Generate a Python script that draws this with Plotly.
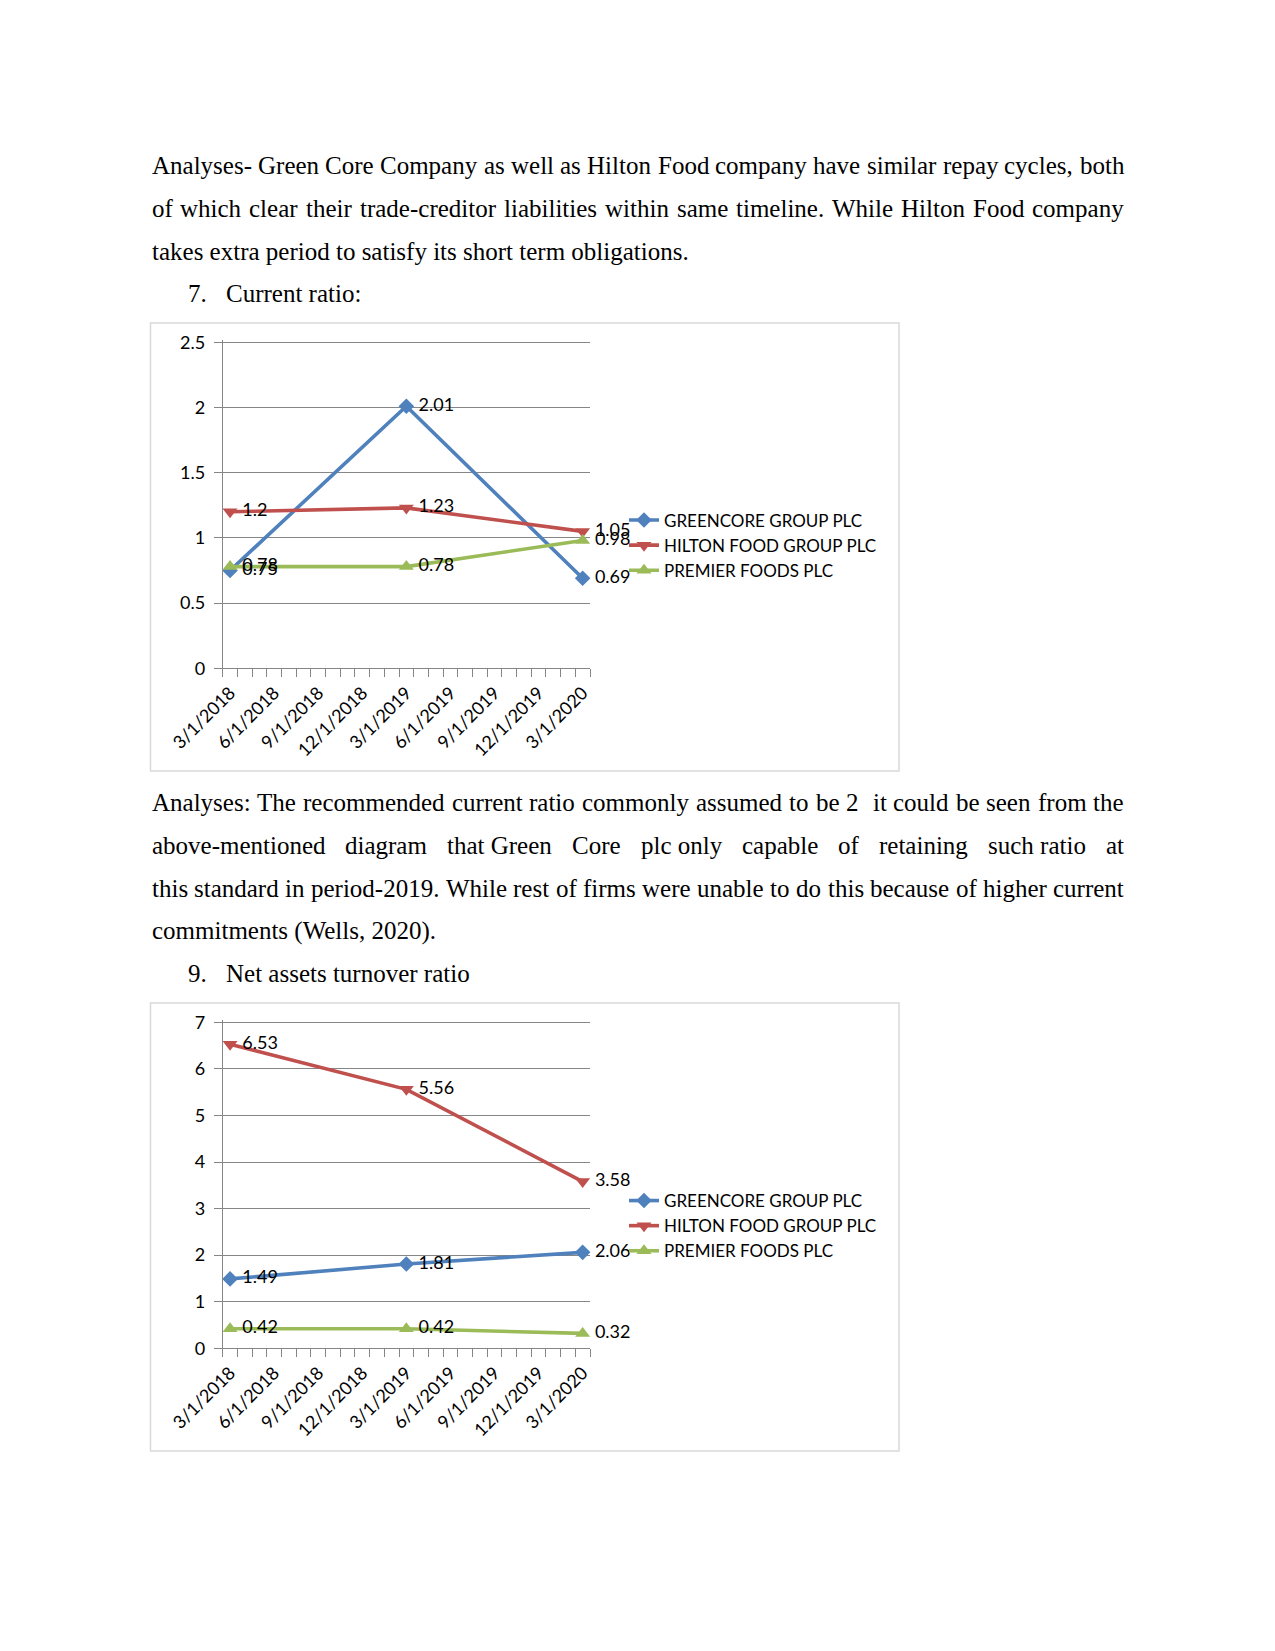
import plotly.graph_objects as go

W, H = 1275, 1651

# ---------------- data ----------------
dates = ["3/1/2018", "3/1/2019", "3/1/2020"]
xtick_labels = ["3/1/2018", "6/1/2018", "9/1/2018", "12/1/2018", "3/1/2019",
                "6/1/2019", "9/1/2019", "12/1/2019", "3/1/2020"]
series_names = ["GREENCORE GROUP PLC", "HILTON FOOD GROUP PLC", "PREMIER FOODS PLC"]

current_greencore = [0.75, 2.01, 0.69]
current_hilton = [1.2, 1.23, 1.05]
current_premier = [0.78, 0.78, 0.98]

nat_greencore = [1.49, 1.81, 2.06]
nat_hilton = [6.53, 5.56, 3.58]
nat_premier = [0.42, 0.42, 0.32]

# ---------------- styles ----------------
colors = ["#4F81BD", "#C0504D", "#9BBB59"]
symbols = ["diamond", "triangle-down", "triangle-up"]
msizes = [12, 13, 13]
GRID = "#868686"
CHART_FONT = "Lato"
BODY_FONT = "Liberation Serif"


def month_index(s):
    m, d, y = map(int, s.split("/"))
    return (y - 2018) * 12 + (m - 3)


xs = [month_index(d) for d in dates]
tickvals = [month_index(t) for t in xtick_labels]
n_months = tickvals[-1] + 1
minor_vals = [i - 0.5 for i in range(n_months + 1)]

fig = go.Figure()


def px_x(p):
    return p / W


def px_y(p):
    return 1 - p / H


def add_chart(series, xa, ya, leg):
    for name, vals, c, sym, ms in zip(series_names, series, colors, symbols, msizes):
        fig.add_trace(go.Scatter(
            x=xs, y=vals, name=name, mode="lines+markers",
            line=dict(color=c, width=3.6),
            marker=dict(symbol=sym, size=ms, color=c, line=dict(width=0)),
            xaxis=xa, yaxis=ya, legend=leg, cliponaxis=False, hoverinfo="skip"))
    for name, vals in zip(series_names, series):
        fig.add_trace(go.Scatter(
            x=xs, y=vals, mode="markers+text", text=[str(v) for v in vals],
            textposition="middle right",
            textfont=dict(family=CHART_FONT, size=18, color="black"),
            marker=dict(size=18, color="rgba(0,0,0,0)"),
            showlegend=False, xaxis=xa, yaxis=ya, cliponaxis=False, hoverinfo="skip"))


add_chart([current_greencore, current_hilton, current_premier], "x", "y", "legend")
add_chart([nat_greencore, nat_hilton, nat_premier], "x2", "y2", "legend2")

plot_x0, plot_x1 = 222.7, 590.0
charts = [
    dict(top=342.3, bottom=668.3, rng=[0, 2.5], dtick=0.5, frame=(323, 771), leg_y=545.5),
    dict(top=1022.3, bottom=1348.3, rng=[0, 7], dtick=1, frame=(1003, 1451), leg_y=1226),
]

common_x = dict(
    range=[-0.5, n_months - 0.5], tickmode="array", tickvals=tickvals, ticktext=xtick_labels,
    tickangle=-45, ticks="", showline=True, linecolor=GRID, linewidth=1, showgrid=False,
    zeroline=False, tickfont=dict(family=CHART_FONT, size=18, color="black"),
    ticklabelstandoff=6,
    minor=dict(tickmode="array", tickvals=minor_vals, ticks="outside", ticklen=8,
               tickcolor=GRID, tickwidth=1, showgrid=False),
    fixedrange=True,
)

layout = dict(
    width=W, height=H, margin=dict(l=0, r=0, t=0, b=0, pad=0, autoexpand=False),
    paper_bgcolor="white", plot_bgcolor="white", showlegend=True,
)

EXTRA = 2.0  # px added above the top gridline so that it is not clipped as an axis end
shapes = []
for i, ch in enumerate(charts):
    sfx = "" if i == 0 else "2"
    ppu = (ch["bottom"] - ch["top"]) / (ch["rng"][1] - ch["rng"][0])
    layout["xaxis" + sfx] = dict(common_x, domain=[px_x(plot_x0), px_x(plot_x1)],
                                 anchor="y" + sfx)
    layout["yaxis" + sfx] = dict(
        domain=[px_y(ch["bottom"]), px_y(ch["top"] - EXTRA)], anchor="x" + sfx,
        range=[ch["rng"][0], ch["rng"][1] + EXTRA / ppu], tick0=0, dtick=ch["dtick"],
        ticks="outside", ticklen=8,
        tickcolor=GRID, showgrid=True, gridcolor=GRID, gridwidth=1, showline=True,
        linecolor=GRID, linewidth=1, zeroline=False, ticklabelstandoff=5,
        tickfont=dict(family=CHART_FONT, size=18, color="black"), fixedrange=True)
    layout["legend" + sfx] = dict(
        x=px_x(624), y=px_y(ch["leg_y"]), xanchor="left", yanchor="middle",
        bgcolor="rgba(0,0,0,0)", font=dict(family=CHART_FONT, size=17, color="black"),
        tracegroupgap=0)
    shapes.append(dict(type="rect", xref="paper", yref="paper",
                       x0=px_x(150.5), x1=px_x(899), y0=px_y(ch["frame"][1]),
                       y1=px_y(ch["frame"][0]), line=dict(color="#D9D9D9", width=1.5),
                       fillcolor="rgba(0,0,0,0)", layer="below"))
layout["shapes"] = shapes

# ---------------- body text ----------------
TIMES = {' ': 250, '!': 333, '"': 408, '%': 833, '&': 778, "'": 333, '(': 333, ')': 333,
         ',': 250, '-': 333, '.': 250, '/': 278, ':': 278, ';': 278, '?': 444,
         'A': 722, 'B': 667, 'C': 667, 'D': 722, 'E': 611, 'F': 556, 'G': 722, 'H': 722,
         'I': 333, 'J': 389, 'K': 722, 'L': 611, 'M': 889, 'N': 722, 'O': 722, 'P': 556,
         'Q': 722, 'R': 667, 'S': 556, 'T': 611, 'U': 722, 'V': 722, 'W': 944, 'X': 722,
         'Y': 722, 'Z': 611, 'a': 444, 'b': 500, 'c': 444, 'd': 500, 'e': 444, 'f': 333,
         'g': 500, 'h': 500, 'i': 278, 'j': 278, 'k': 500, 'l': 278, 'm': 778, 'n': 500,
         'o': 500, 'p': 500, 'q': 500, 'r': 333, 's': 389, 't': 278, 'u': 500, 'v': 500,
         'w': 722, 'x': 500, 'y': 500, 'z': 444}
BODY_SIZE = 25
LEFT, RIGHT = 150.5, 1123.0


def tw(s):
    return sum(TIMES.get(c, 500) for c in s) / 1000 * BODY_SIZE


annotations = []


def ann(text, x, y):
    annotations.append(dict(text=text, xref="paper", yref="paper", x=px_x(x), y=px_y(y),
                            xanchor="left", yanchor="middle", showarrow=False,
                            borderpad=0,
                            font=dict(family=BODY_FONT, size=BODY_SIZE, color="black")))


def justified(groups, y):
    widths = [tw(g) for g in groups]
    gaps = len(groups) - 1
    gap = (RIGHT - LEFT - sum(widths)) / gaps
    x = LEFT
    for g, w in zip(groups, widths):
        if g:
            ann(g, x, y)
        x += w + gap


para1 = [
    "Analyses- Green Core Company as well as Hilton Food company have similar repay cycles, both",
    "of which clear their trade-creditor liabilities within same timeline. While Hilton Food company",
]
para1_last = "takes extra period to satisfy its short term obligations."
para2_l1 = "Analyses: The recommended current ratio commonly assumed to be 2  it could be seen from the"
para2_l2 = ["above-mentioned", "diagram", "that Green", "Core", "plc only", "capable", "of",
            "retaining", "such ratio", "at"]
para2_l3 = "this standard in period-2019. While rest of firms were unable to do this because of higher current"
para2_last = "commitments (Wells, 2020)."

LH = 42.9
y0 = 165.3
justified(para1[0].split(" "), y0)
justified(para1[1].split(" "), y0 + LH)
ann(para1_last, LEFT, y0 + 2 * LH)
ann("7.", 187.4, y0 + 3 * LH)
ann("Current ratio:", 225.3, y0 + 3 * LH)

y1 = 802.2
justified(para2_l1.split(" "), y1)
justified(para2_l2, y1 + LH)
justified(para2_l3.split(" "), y1 + 2 * LH)
ann(para2_last, LEFT, y1 + 3 * LH)
ann("9.", 187.4, y1 + 4 * LH)
ann("Net assets turnover ratio", 225.3, y1 + 4 * LH)

layout["annotations"] = annotations
fig.update_layout(**layout)
fig.write_html("out.html", config={"displayModeBar": False, "staticPlot": True},
               post_script="document.body.style.margin='0';document.body.style.overflow='hidden';")
